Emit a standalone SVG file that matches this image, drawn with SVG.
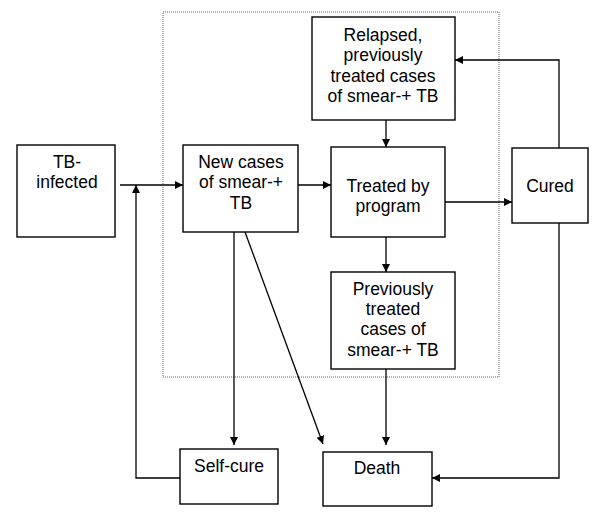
<svg xmlns="http://www.w3.org/2000/svg" width="600" height="518" viewBox="0 0 600 518">
<style>
.box{fill:#fff;stroke:#000;stroke-width:1.4}
.t{font-family:"Liberation Sans",Arial,sans-serif;font-size:17.5px;fill:#000;text-anchor:middle}
.c{fill:none;stroke:#000;stroke-width:1.3}
</style>
<defs>
<marker id="ah" viewBox="0 0 10 10" refX="10" refY="5" markerWidth="8" markerHeight="8" markerUnits="userSpaceOnUse" orient="auto">
<path d="M0,0 L10,5 L0,10 z" fill="#000"/>
</marker>
</defs>
<rect x="163" y="12" width="336" height="365" fill="none" stroke="#666" stroke-width="1" stroke-dasharray="1,1"/>
<g id="connectors">
<path class="c" d="M120,185 H183" marker-end="url(#ah)"/>
<path class="c" d="M180,478 H136 V185" marker-end="url(#ah)"/>
<path class="c" d="M298,185 H331" marker-end="url(#ah)"/>
<path class="c" d="M386,120 V147" marker-end="url(#ah)"/>
<path class="c" d="M386,237 V272" marker-end="url(#ah)"/>
<path class="c" d="M445,202 H512" marker-end="url(#ah)"/>
<path class="c" d="M559,148 V60 H455" marker-end="url(#ah)"/>
<path class="c" d="M559,223 V478 H432" marker-end="url(#ah)"/>
<path class="c" d="M234,232 V445" marker-end="url(#ah)"/>
<path class="c" d="M245,232 L323,444" marker-end="url(#ah)"/>
<path class="c" d="M386,369 V445" marker-end="url(#ah)"/>
</g>
<g id="tb-infected">
<rect class="box" x="17" y="145" width="98" height="92"/>
<text class="t" x="67" y="168">TB-</text>
<text class="t" x="67" y="188">infected</text>
</g>
<g id="new-cases">
<rect class="box" x="183" y="145" width="115" height="87"/>
<text class="t" x="241" y="168">New cases</text>
<text class="t" x="241" y="188">of smear-+</text>
<text class="t" x="241" y="209">TB</text>
</g>
<g id="relapsed">
<rect class="box" x="312" y="17" width="143" height="103"/>
<text class="t" x="383" y="41">Relapsed,</text>
<text class="t" x="383" y="61">previously</text>
<text class="t" x="383" y="82">treated cases</text>
<text class="t" x="383" y="102">of smear-+ TB</text>
</g>
<g id="treated">
<rect class="box" x="331" y="147" width="114" height="90"/>
<text class="t" x="388" y="192">Treated by</text>
<text class="t" x="388" y="212">program</text>
</g>
<g id="previously">
<rect class="box" x="331" y="272" width="124" height="97"/>
<text class="t" x="393" y="295">Previously</text>
<text class="t" x="393" y="315">treated</text>
<text class="t" x="393" y="335">cases of</text>
<text class="t" x="393" y="356">smear-+ TB</text>
</g>
<g id="cured">
<rect class="box" x="512" y="148" width="76" height="75"/>
<text class="t" x="550" y="192">Cured</text>
</g>
<g id="self-cure">
<rect class="box" x="180" y="449" width="98" height="55"/>
<text class="t" x="229" y="472">Self-cure</text>
</g>
<g id="death">
<rect class="box" x="323" y="452" width="109" height="54"/>
<text class="t" x="377" y="474">Death</text>
</g>
</svg>
